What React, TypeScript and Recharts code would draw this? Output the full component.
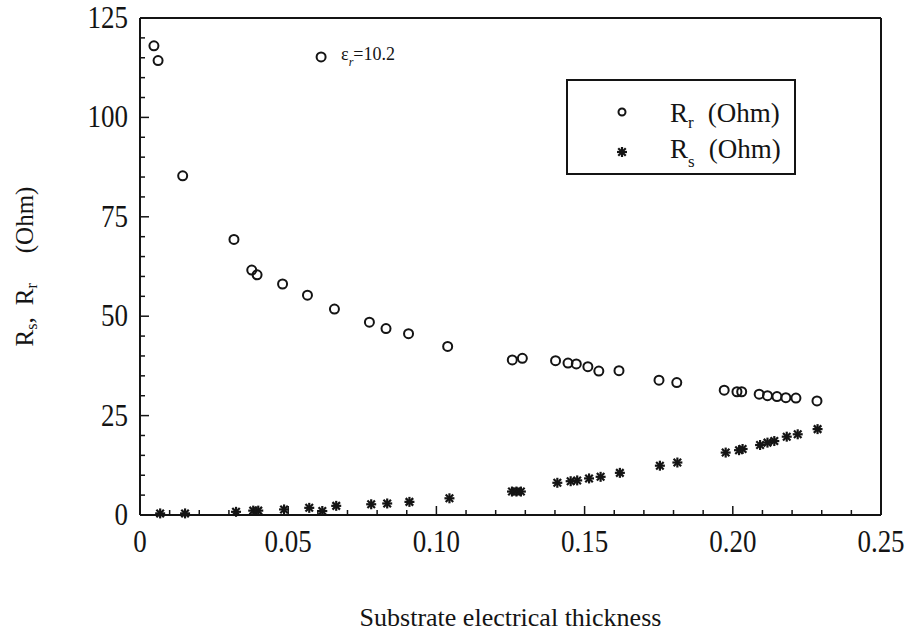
import React from "react";
import {
  Label,
  Legend,
  ReferenceDot,
  Scatter,
  ScatterChart,
  XAxis,
  YAxis,
} from "recharts";

// substrate electrical thickness for R_r
const rrX = [
  0.0047, 0.0061, 0.0144, 0.0317, 0.0377, 0.0395, 0.0481, 0.0565, 0.0656,
  0.0774, 0.083, 0.0906, 0.1038, 0.1256, 0.129, 0.1402, 0.1444, 0.1472,
  0.1511, 0.1548, 0.1616, 0.1751, 0.1811, 0.1971, 0.2014, 0.203, 0.2089,
  0.2117, 0.2149, 0.2179, 0.2213, 0.2284,
];
const rrY = [
  118.0, 114.3, 85.3, 69.3, 61.6, 60.4, 58.1, 55.3, 51.8, 48.5, 46.9, 45.6,
  42.4, 39.0, 39.4, 38.8, 38.2, 38.0, 37.3, 36.2, 36.3, 33.9, 33.3, 31.4,
  31.0, 31.0, 30.4, 30.0, 29.8, 29.5, 29.4, 28.7,
];

// substrate electrical thickness for R_s
const rsX = [
  0.0068, 0.0152, 0.0324, 0.0382, 0.0399, 0.0486, 0.0571, 0.0615, 0.0662,
  0.078, 0.0834, 0.0909, 0.1044, 0.1255, 0.127, 0.1285, 0.1408, 0.1453,
  0.1475, 0.1515, 0.1554, 0.1619, 0.1754, 0.1813, 0.1976, 0.2021, 0.2033,
  0.2092, 0.2117, 0.214, 0.2182, 0.2219, 0.2286,
];
const rsY = [
  0.4, 0.4, 0.8, 1.1, 1.1, 1.4, 1.8, 1.0, 2.3, 2.7, 2.9, 3.3, 4.2, 5.9, 5.9,
  5.9, 8.1, 8.5, 8.7, 9.2, 9.6, 10.6, 12.4, 13.2, 15.7, 16.3, 16.6, 17.6,
  18.2, 18.6, 19.7, 20.3, 21.6,
];

const seriesNames = ["Rr (Ohm)", "Rs (Ohm)"];

const xTicks = [
  0, 0.01, 0.02, 0.03, 0.04, 0.05, 0.06, 0.07, 0.08, 0.09, 0.1, 0.11, 0.12,
  0.13, 0.14, 0.15, 0.16, 0.17, 0.18, 0.19, 0.2, 0.21, 0.22, 0.23, 0.24, 0.25,
];
const yTicks = [
  0, 5, 10, 15, 20, 25, 30, 35, 40, 45, 50, 55, 60, 65, 70, 75, 80, 85, 90,
  95, 100, 105, 110, 115, 120, 125,
];

// the epsilon_r key marker
const epsMarker = { x: 0.0611, y: 115.2, text: "10.2" };

const rrData = rrX.map((x, i) => ({ x, y: rrY[i] }));
const rsData = rsX.map((x, i) => ({ x, y: rsY[i] }));

const INK = "#141414";
const FONT = '"Liberation Serif", "Times New Roman", serif';

const isMajor = (v: number, step: number) =>
  Math.abs(v / step - Math.round(v / step)) < 1e-6;

const xLabel = (v: number) => (v === 0 ? "0" : v.toFixed(2));

function Circle(p: any) {
  return (
    <circle cx={p.cx} cy={p.cy} r={4.5} fill="none" stroke={INK} strokeWidth={2} />
  );
}

function Star(p: any) {
  const { cx, cy } = p;
  const r = 5;
  const d = r * 0.75;
  return (
    <g stroke={INK} strokeWidth={2.2}>
      <line x1={cx - r} y1={cy} x2={cx + r} y2={cy} />
      <line x1={cx} y1={cy - r} x2={cx} y2={cy + r} />
      <line x1={cx - d} y1={cy - d} x2={cx + d} y2={cy + d} />
      <line x1={cx - d} y1={cy + d} x2={cx + d} y2={cy - d} />
    </g>
  );
}

// tall serif numerals, like the scanned figure
function TickText({ x, y, anchor, children }: any) {
  return (
    <text
      transform={`translate(${x} ${y}) scale(1 1.15)`}
      textAnchor={anchor}
      fontSize={27}
      fontFamily={FONT}
      fill={INK}
    >
      {children}
    </text>
  );
}

function BottomTick(p: any) {
  const { x, y, payload } = p;
  const major = isMajor(payload.value, 0.05);
  return (
    <g>
      <line x1={x} y1={y} x2={x} y2={y - (major ? 9 : 5)} stroke={INK} strokeWidth={1.5} />
      {major && (
        <TickText x={x} y={y + 37} anchor="middle">
          {xLabel(payload.value)}
        </TickText>
      )}
    </g>
  );
}

function TopTick(p: any) {
  const { x, y, payload } = p;
  const major = isMajor(payload.value, 0.05);
  return <line x1={x} y1={y} x2={x} y2={y + (major ? 9 : 5)} stroke={INK} strokeWidth={1.5} />;
}

function LeftTick(p: any) {
  const { x, y, payload } = p;
  const major = isMajor(payload.value, 25);
  return (
    <g>
      <line x1={x} y1={y} x2={x + (major ? 9 : 5)} y2={y} stroke={INK} strokeWidth={1.5} />
      {major && (
        <TickText x={x - 12} y={y + 10} anchor="end">
          {payload.value}
        </TickText>
      )}
    </g>
  );
}

function RightTick(p: any) {
  const { x, y, payload } = p;
  const major = isMajor(payload.value, 25);
  return <line x1={x} y1={y} x2={x - (major ? 9 : 5)} y2={y} stroke={INK} strokeWidth={1.5} />;
}

function YTitle(p: any) {
  const vb = p.viewBox;
  const cx = vb.x - 56;
  const cy = vb.y + vb.height / 2;
  return (
    <text
      x={cx}
      y={cy}
      transform={`rotate(-90 ${cx} ${cy})`}
      textAnchor="middle"
      dominantBaseline="central"
      fontSize={25}
      fontFamily={FONT}
      fill={INK}
    >
      R
      <tspan fontSize={16} dy={7}>s</tspan>
      <tspan dy={-7}>,</tspan>
      <tspan dx={12}>R</tspan>
      <tspan fontSize={16} dy={7}>r</tspan>
      <tspan dy={-7} dx={30}>(Ohm)</tspan>
    </text>
  );
}

function XTitle(p: any) {
  const vb = p.viewBox;
  return (
    <text
      x={vb.x + vb.width / 2}
      y={vb.y + 111}
      textAnchor="middle"
      fontSize={26}
      fontFamily={FONT}
      fill={INK}
    >
      Substrate electrical thickness
    </text>
  );
}

function EpsKey(p: any) {
  const { cx, cy } = p;
  return (
    <g>
      <circle cx={cx} cy={cy} r={4.5} fill="none" stroke={INK} strokeWidth={2} />
      <text x={cx + 20} y={cy + 3} fontSize={18} fontFamily={FONT} fill={INK}>
        ε
        <tspan fontSize={12} fontStyle="italic" dy={6}>r</tspan>
        <tspan dy={-6}>={epsMarker.text}</tspan>
      </text>
    </g>
  );
}

function KeyBox({ payload }: any) {
  const rows = (payload || []).filter((e: any) => seriesNames.includes(e.value));
  return (
    <div
      style={{
        width: 230,
        height: 96,
        boxSizing: "border-box",
        border: `2px solid ${INK}`,
        background: "#fff",
      }}
    >
      <svg width={226} height={92} style={{ overflow: "visible", display: "block" }}>
        {rows.map((e: any, i: number) => {
          const name: string = e.value;
          const my = 31 + i * 40;
          const base = 41 + i * 36;
          return (
            <g key={name}>
              {i === 0 ? (
                <circle cx={54} cy={my} r={3.5} fill="none" stroke={INK} strokeWidth={2} />
              ) : (
                <Star cx={54} cy={my} />
              )}
              <text x={102} y={base} fontSize={27} fontFamily={FONT} fill={INK}>
                {name.charAt(0)}
                <tspan fontSize={17} dy={i === 0 ? 6 : 9}>{name.charAt(1)}</tspan>
                <tspan dy={i === 0 ? -6 : -9} dx={14}>{name.slice(3)}</tspan>
              </text>
            </g>
          );
        })}
      </svg>
    </div>
  );
}

export default function App() {
  return (
    <div style={{ position: "absolute", left: 0, top: 0, background: "#fff" }}>
      <ScatterChart
        width={908}
        height={634}
        margin={{ top: 8, right: 17, bottom: 79, left: 80 }}
      >
        <XAxis
          xAxisId="bottom"
          dataKey="x"
          type="number"
          domain={[0, 0.25]}
          ticks={xTicks}
          interval={0}
          height={40}
          tickSize={0}
          tickMargin={0}
          tick={BottomTick}
          axisLine={{ stroke: INK, strokeWidth: 2 }}
        >
          <Label content={XTitle} />
        </XAxis>
        <XAxis
          xAxisId="top"
          orientation="top"
          type="number"
          domain={[0, 0.25]}
          ticks={xTicks}
          interval={0}
          height={10}
          tickSize={0}
          tickMargin={0}
          tick={TopTick}
          axisLine={{ stroke: INK, strokeWidth: 2 }}
        />
        <YAxis
          yAxisId="left"
          dataKey="y"
          type="number"
          domain={[0, 125]}
          ticks={yTicks}
          interval={0}
          width={60}
          tickSize={0}
          tickMargin={0}
          tick={LeftTick}
          axisLine={{ stroke: INK, strokeWidth: 2 }}
        >
          <Label content={YTitle} />
        </YAxis>
        <YAxis
          yAxisId="right"
          orientation="right"
          type="number"
          domain={[0, 125]}
          ticks={yTicks}
          interval={0}
          width={10}
          tickSize={0}
          tickMargin={0}
          tick={RightTick}
          axisLine={{ stroke: INK, strokeWidth: 2 }}
        />
        <Legend
          layout="vertical"
          align="center"
          verticalAlign="middle"
          content={KeyBox}
          wrapperStyle={{ left: 566, top: 79, width: 230, height: 96 }}
        />
        <ReferenceDot
          xAxisId="bottom"
          yAxisId="left"
          x={epsMarker.x}
          y={epsMarker.y}
          shape={EpsKey}
        />
        <Scatter
          name={seriesNames[0]}
          data={rrData}
          xAxisId="bottom"
          yAxisId="left"
          shape={Circle}
          fill={INK}
          isAnimationActive={false}
        />
        <Scatter
          name={seriesNames[1]}
          data={rsData}
          xAxisId="bottom"
          yAxisId="left"
          shape={Star}
          fill={INK}
          isAnimationActive={false}
        />
      </ScatterChart>
    </div>
  );
}
